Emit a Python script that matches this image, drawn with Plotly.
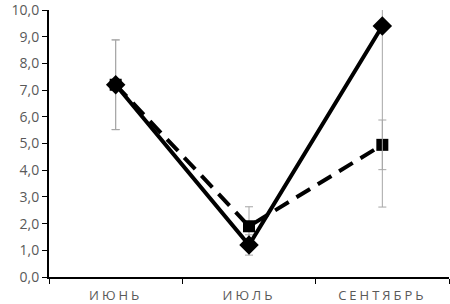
import plotly.graph_objects as go

months = ["ИЮНЬ", "ИЮЛЬ", "СЕНТЯБРЬ"]
solid_vals = [7.2, 1.2, 9.4]
solid_err = [1.68, 0.38, 6.78]
dashed_vals = [7.2, 1.9, 4.95]
dashed_err = [1.68, 0.73, 0.93]
y_ticks = [0, 1, 2, 3, 4, 5, 6, 7, 8, 9, 10]

err_style = dict(type="data", color="#a6a6a6", thickness=1, width=4)

fig = go.Figure()
fig.add_trace(go.Scatter(
    x=months, y=dashed_vals, mode="lines+markers",
    line=dict(color="black", width=4, dash="16px,9px"),
    marker=dict(symbol="square", size=12, color="black"),
    error_y=dict(array=dashed_err, **err_style), showlegend=False))
fig.add_trace(go.Scatter(
    x=months, y=solid_vals, mode="lines+markers",
    line=dict(color="black", width=4),
    marker=dict(symbol="diamond", size=15, color="black"),
    error_y=dict(array=solid_err, **err_style), showlegend=False))

fig.update_layout(
    width=450, height=304,
    margin=dict(l=49, r=1, t=10, b=27, autoexpand=False),
    paper_bgcolor="white", plot_bgcolor="white",
    separators=", ",
    font=dict(family="Open Sans", size=14, color="#595959"),
)
fig.update_xaxes(
    type="category", showline=True, linecolor="black", linewidth=2,
    ticks="outside", tickson="boundaries", ticklen=5, tickcolor="black",
    showgrid=False, zeroline=False, range=[-0.5, 2.5], automargin=False,
    ticklabelstandoff=5,
    tickfont=dict(size=13, color="#595959"),
)
fig.update_yaxes(
    range=[0, 10], tickvals=y_ticks, tickformat=".1f",
    showline=True, linecolor="black", linewidth=2,
    ticks="outside", ticklen=5, tickcolor="black",
    showgrid=False, zeroline=False, automargin=False,
    ticklabeloverflow="allow",
    tickfont=dict(size=14, color="#595959"),
)

post = (
    "document.body.style.margin='0';"
    "document.querySelectorAll('.xtick text').forEach(function(t){"
    "t.style.letterSpacing='3px';});"
)
fig.write_html("out.html", post_script=post, config={"displayModeBar": False})
